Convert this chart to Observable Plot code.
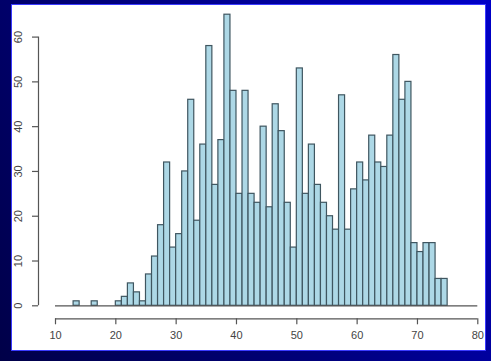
<!DOCTYPE html>
<html>
<head>
<meta charset="utf-8">
<script src="https://cdn.jsdelivr.net/npm/d3@7"></script>
<script src="https://cdn.jsdelivr.net/npm/@observablehq/plot@0.6"></script>
<style>
  html, body { margin: 0; padding: 0; }
  body {
    width: 491px; height: 361px; overflow: hidden;
    background: linear-gradient(60deg, #000048 0%, #00007a 45%, #0000c8 100%);
    position: relative;
  }
  #panel {
    position: absolute; left: 11px; top: 4px;
    width: 473px; height: 345px;
    background: #ffffff;
    border: 1px solid #3a3aff;
  }
  #panel svg { display: block; }
</style>
</head>
<body>
<div id="panel"></div>
<script>
// Histogram: bins of width 1 starting at binStart, with counts
const binStart = [13,14,15,16,17,18,19,20,21,22,23,24,25,26,27,28,29,30,31,32,33,34,35,36,37,38,39,40,41,42,43,44,45,46,47,48,49,50,51,52,53,54,55,56,57,58,59,60,61,62,63,64,65,66,67,68,69,70,71,72,73,74];
const counts   = [1,0,0,1,0,0,0,1,2,5,3,1,7,11,18,32,13,16,30,46,19,36,58,27,37,65,48,25,48,25,23,40,22,45,39,23,13,53,25,36,27,23,20,17,47,17,26,32,28,38,32,31,38,56,46,50,14,12,14,14,6,6];
const xTicks = [10,20,30,40,50,60,70,80];
const yTicks = [0,10,20,30,40,50,60];

const bins = binStart.map((s, i) => ({x1: s, x2: s + 1, n: counts[i]})).filter(d => d.n > 0);

const axisColor = "#555";
const chart = Plot.plot({
  width: 473,
  height: 345,
  marginLeft: 43,
  marginRight: 7.7,
  marginTop: 9.2,
  marginBottom: 44.7,
  style: {fontFamily: "'Liberation Sans', Arial, sans-serif", fontSize: "11px", color: "#444", background: "white"},
  x: {domain: [10, 80]},
  y: {domain: [0, 65]},
  marks: [
    Plot.rectY(bins, {x1: "x1", x2: "x2", y: "n", fill: "#add8e6", stroke: "#3f5660", strokeWidth: 1.2}),
    Plot.ruleY([0], {x1: 10, x2: 80, stroke: axisColor, strokeWidth: 1.2}),
    // x axis (offset below the baseline)
    Plot.ruleY([0], {x1: 10, x2: 80, dy: 13, stroke: axisColor, strokeWidth: 1.2}),
    Plot.axisX({ticks: xTicks, tickSize: 6, tickPadding: 6, dy: 13, label: null, stroke: axisColor, fill: "#444", strokeWidth: 1.2}),
    // y axis (offset left of the plot)
    Plot.ruleX([10], {y1: 0, y2: 60, dx: -17, stroke: axisColor, strokeWidth: 1.2}),
    Plot.axisY({ticks: yTicks, tickSize: 6, tickPadding: 11, dx: -17, tickRotate: -90, label: null, stroke: axisColor, fill: "#444", strokeWidth: 1.2})
  ]
});
document.getElementById("panel").appendChild(chart);
</script>
</body>
</html>
